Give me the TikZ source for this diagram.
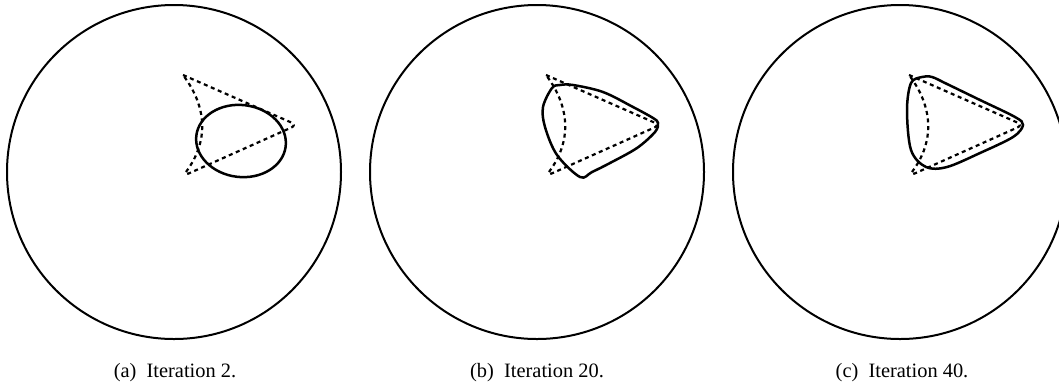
\documentclass[tikz,border=0pt]{standalone}
\usepackage{fontspec}
\setmainfont{Liberation Serif}
\begin{document}
\begin{tikzpicture}[x=0.5pt,y=-0.5pt,
  outer/.style={line width=1pt},
  guide/.style={line width=1.1pt,dash pattern=on 2pt off 1.8pt},
  iter/.style={line width=1.25pt},
  captext/.style={font=\fontsize{10.2}{12}\selectfont,inner sep=0pt}]
\useasboundingbox (0,0) rectangle (1059,387);
\clip (0,0) rectangle (1059,387);
% outer circles
\foreach \cx/\nm in {174/a,537/b,900/c}{
  \draw[outer] (\cx,172) circle (167);
  \coordinate (T\nm) at (\cx+9,75);
  \coordinate (R\nm) at (\cx+123,125);
  \coordinate (B\nm) at (\cx+9,176);
  \draw[guide] (T\nm) [rounded corners=3] -- (R\nm) -- (B\nm) [sharp corners]
     .. controls (\cx+34,142) and (\cx+34,108) .. (T\nm);
}
% iterates
\draw[iter] (241,141) ellipse[x radius=45, y radius=36, rotate=-7];
\draw[iter] plot[smooth cycle,tension=0.55] coordinates {
  (552,88) (543,107) (545,127) (557,155) (580,177) (592,172) (610,163) (637,148)
  (655,132) (658,123) (653,118) (633,107) (603,92) (573,85) (560,85)};
\draw[iter] plot[smooth cycle,tension=0.55] coordinates {
  (922,77) (911,83) (907,110) (911,150) (926,167) (947,167) (980,153) (1013,137)
  (1023,125) (1015,117) (980,100) (947,84) (932,77)};
% captions
\node[captext] (capa) at (175,373) {(a)\hspace{0.5em}Iteration 2.};
\node[captext] (capb) at (537,373) {(b)\hspace{0.5em}Iteration 20.};
\node[captext] (capc) at (902,373) {(c)\hspace{0.5em}Iteration 40.};
\end{tikzpicture}
\end{document}
